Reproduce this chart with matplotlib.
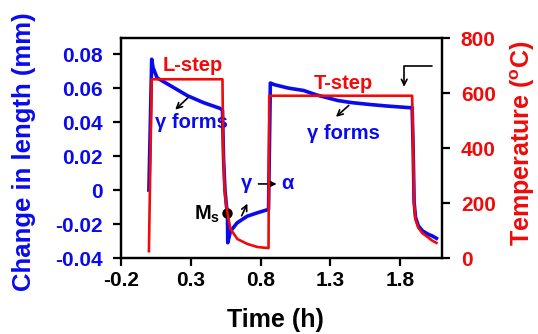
import matplotlib
matplotlib.use("Agg")
import matplotlib.pyplot as plt

plt.rcParams['font.family'] = ['Liberation Sans', 'DejaVu Sans']
plt.rcParams['font.weight'] = 'bold'
plt.rcParams['axes.labelweight'] = 'bold'
plt.rcParams['mathtext.fontset'] = 'custom'
plt.rcParams['mathtext.rm'] = 'Liberation Sans:bold'
plt.rcParams['mathtext.bf'] = 'Liberation Sans:bold'

# dados
t_len = [0.0, 0.02, 0.03, 0.059, 0.153, 0.275, 0.39, 0.512, 0.527,
         0.535, 0.545, 0.555, 0.5626, 0.565, 0.584, 0.632, 0.704, 0.776, 0.857,
         0.87, 0.9, 1.0, 1.109, 1.2, 1.354, 1.45, 1.591, 1.7, 1.865, 1.886,
         1.893, 1.90, 1.91, 1.93, 1.96, 2.0, 2.03, 2.06]
comprimento = [0.0, 0.077, 0.072, 0.066, 0.0615, 0.0556, 0.0515, 0.048, 0.047,
               0.018, 0.0, -0.009, -0.0136, -0.031, -0.0243, -0.0193, -0.0154, -0.0134, -0.0114,
               0.063, 0.062, 0.060, 0.0586, 0.056, 0.0527, 0.0515, 0.0503, 0.0495, 0.0485, 0.0485,
               0.025, -0.007, -0.016, -0.021, -0.024, -0.026, -0.027, -0.0284]

t_temp = [0.0, 0.02, 0.527, 0.532, 0.542, 0.55, 0.5626, 0.584, 0.634, 0.706, 0.778, 0.857,
          0.862, 1.886, 1.893, 1.90, 1.91, 1.93, 1.96, 2.0, 2.03, 2.06]
temperatura = [25, 650, 650, 400, 250, 208, 164, 106, 69, 51, 40, 36,
               590, 590, 400, 200, 140, 110, 90, 75, 63, 55]

ms_t, ms_L = 0.5626, -0.0136

x_ticks = [-0.2, 0.3, 0.8, 1.3, 1.8]
y_ticks = [-0.04, -0.02, 0, 0.02, 0.04, 0.06, 0.08]
y_ticklabels = ['-0.04', '-0.02', '0', '0.02', '0.04', '0.06', '0.08']
t_ticks = [0, 200, 400, 600, 800]

azul = '#0A0AF0'
vermelho = '#F00A0A'

fig = plt.figure(figsize=(5.38, 3.34), dpi=100)
ax = fig.add_axes([0.2249, 0.2275, 0.5967, 0.6587])
ax2 = ax.twinx()

ax.plot(t_len, comprimento, color=azul, lw=2.6, zorder=2)
ax2.plot(t_temp, temperatura, color=vermelho, lw=1.9, zorder=3)
ax.plot([ms_t], [ms_L], 'o', color='black', ms=6.5, zorder=5)

ax.set_xlim(-0.2, 2.1)
ax.set_ylim(-0.04, 0.0895)
ax2.set_ylim(0, 800)
ax.set_xticks(x_ticks)
ax.set_xticklabels([str(v) for v in x_ticks])
ax.set_yticks(y_ticks)
ax.set_yticklabels(y_ticklabels)
ax2.set_yticks(t_ticks)

for a in (ax, ax2):
    for s in a.spines.values():
        s.set_linewidth(1.6)
    a.tick_params(direction='out', length=5.5, width=1.6, labelsize=15)
ax.tick_params(axis='x', pad=3.5)
ax.tick_params(axis='y', labelcolor=azul, pad=7.5)
ax2.tick_params(axis='y', labelcolor=vermelho, pad=8)

# rótulos dos eixos
fig.text(275 / 538, 1 - 320 / 334, 'Time (h)', fontsize=18, ha='center', va='center')
fig.text(24 / 538, 1 - 152 / 334, 'Change in length (mm)', fontsize=18.5, color=azul,
         rotation=90, ha='center', va='center')
fig.text(523 / 538, 1 - 143 / 334, 'Temperature ($^\\mathbf{o}$C)', fontsize=18, color=vermelho,
         rotation=90, ha='center', va='center')

# anotações
ax2.text(0.311, 701, 'L-step', color=vermelho, fontsize=14.5, ha='center', va='center')
ax2.text(1.39, 635, 'T-step', color=vermelho, fontsize=14.5, ha='center', va='center')
ax.text(0.304, 0.0395, 'γ forms', color=azul, fontsize=14.5, ha='center', va='center', zorder=1)
ax.text(1.397, 0.0331, 'γ forms', color=azul, fontsize=14.5, ha='center', va='center')
ax.annotate('', xy=(0.174, 0.0462), xytext=(0.296, 0.0556),
            arrowprops=dict(arrowstyle='->', color='black', lw=1.2))
ax.annotate('', xy=(1.325, 0.042), xytext=(1.447, 0.0509),
            arrowprops=dict(arrowstyle='->', color='black', lw=1.2))
ax.text(0.70, 0.0036, 'γ', color=azul, fontsize=14.5, ha='center', va='center')
ax.annotate('', xy=(0.935, 0.0036), xytext=(0.765, 0.0036),
            arrowprops=dict(arrowstyle='-|>', color='black', lw=1.2, mutation_scale=10))
ax.text(0.995, 0.0036, 'α', color=azul, fontsize=14.5, ha='center', va='center')
ax.annotate('', xy=(0.714, -0.0065), xytext=(0.656, -0.0166),
            arrowprops=dict(arrowstyle='->', color='black', lw=1.2))
ax.text(0.51, -0.0172, 'M$_\\mathbf{s}$', color='black', fontsize=14.5, ha='right', va='baseline')
ax.annotate('', xy=(1.829, 0.0592), xytext=(2.045, 0.0728),
            arrowprops=dict(arrowstyle='->', color='black', lw=1.2,
                            connectionstyle='angle,angleA=0,angleB=90,rad=0'))

fig.savefig('out.png', dpi=100)
